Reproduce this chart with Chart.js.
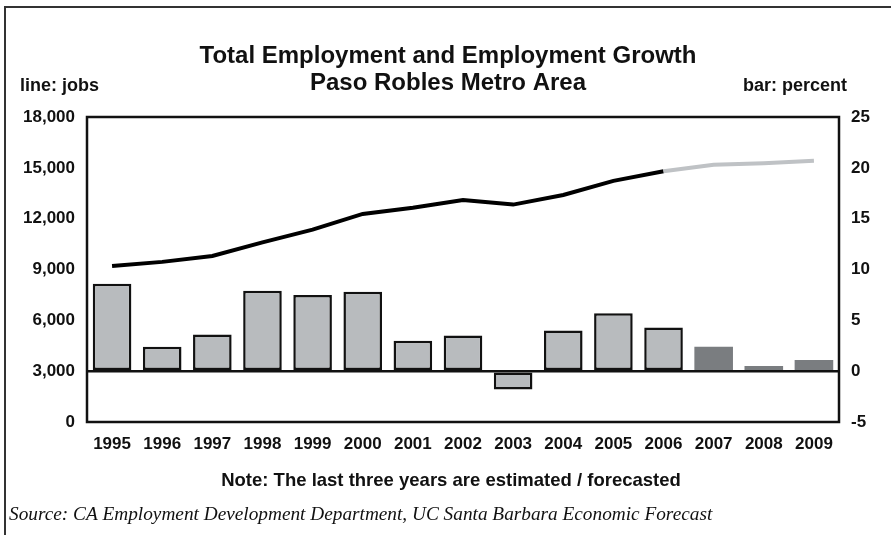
<!DOCTYPE html>
<html>
<head>
<meta charset="utf-8">
<script src="https://cdn.jsdelivr.net/npm/chart.js@4.4.1/dist/chart.umd.min.js"></script>
<style>
  html, body { margin: 0; padding: 0; background: #fff; }
  #wrap { width: 891px; height: 535px; position: relative; }
</style>
</head>
<body>
<div id="wrap"><canvas id="chart" width="891" height="535"></canvas></div>
<script>
// years shown on the x axis
const years = ['1995','1996','1997','1998','1999','2000','2001','2002','2003','2004','2005','2006','2007','2008','2009'];
// line: total jobs
const jobs = [9200, 9450, 9800, 10600, 11350, 12280, 12650, 13100, 12830, 13400, 14230, 14800, 15180, 15270, 15420];
// bar: employment growth, percent
const growth = [8.6, 2.4, 3.6, 7.9, 7.5, 7.8, 3.0, 3.5, -1.8, 4.0, 5.7, 4.3, 2.4, 0.5, 1.1];
// first index that is estimated / forecasted
const forecastFrom = 12;

const jobTicks = [0, 3000, 6000, 9000, 12000, 15000, 18000];
const pctTicks = [-5, 0, 5, 10, 15, 20, 25];

const barFill = growth.map((v, i) => i < forecastFrom ? '#b8bbbe' : '#7a7d80');
const barBorder = growth.map((v, i) => i < forecastFrom ? 2.5 : 0);

const sans = '"Liberation Sans", Arial, sans-serif';
const tickFont = { family: sans, size: 17, weight: 'bold' };

// titles, side labels, note, source and frames
const extras = {
  id: 'extras',
  afterDraw(chart) {
    const ctx = chart.ctx;
    const a = chart.chartArea;
    ctx.save();
    ctx.fillStyle = '#111';
    ctx.textBaseline = 'middle';
    ctx.textAlign = 'center';
    ctx.font = 'bold 24px ' + sans;
    ctx.fillText('Total Employment and Employment Growth', 448, 56);
    ctx.fillText('Paso Robles Metro Area', 448, 83);
    ctx.font = 'bold 18px ' + sans;
    ctx.textAlign = 'left';
    ctx.fillText('line: jobs', 20, 86);
    ctx.textAlign = 'right';
    ctx.fillText('bar: percent', 847, 86);
    ctx.font = 'bold 18.5px ' + sans;
    ctx.textAlign = 'center';
    ctx.fillText('Note: The last three years are estimated / forecasted', 451, 481);
    ctx.textAlign = 'left';
    ctx.font = 'italic 19.3px "Liberation Serif", "Times New Roman", serif';
    ctx.fillText('Source: CA Employment Development Department, UC Santa Barbara Economic Forecast', 9, 515);

    // plot box
    ctx.strokeStyle = '#111';
    ctx.lineWidth = 2.5;
    ctx.strokeRect(a.left, a.top, a.right - a.left, a.bottom - a.top);

    // outer frame (top and left)
    ctx.strokeStyle = '#333';
    ctx.lineWidth = 2;
    ctx.beginPath();
    ctx.moveTo(5, 535);
    ctx.lineTo(5, 7);
    ctx.lineTo(891, 7);
    ctx.stroke();
    ctx.restore();
  }
};

new Chart(document.getElementById('chart'), {
  data: {
    labels: years,
    datasets: [
      {
        type: 'line',
        label: 'jobs',
        data: jobs,
        yAxisID: 'y',
        borderColor: '#000',
        borderWidth: 4,
        pointRadius: 0,
        tension: 0,
        order: 0,
        segment: {
          borderColor: c => c.p0DataIndex >= forecastFrom - 1 ? '#bfc2c5' : '#000'
        }
      },
      {
        type: 'bar',
        label: 'percent',
        data: growth,
        yAxisID: 'y1',
        backgroundColor: barFill,
        borderColor: '#111',
        borderWidth: barBorder,
        borderSkipped: false,
        barPercentage: 0.77,
        categoryPercentage: 1,
        order: 1
      }
    ]
  },
  options: {
    responsive: false,
    animation: false,
    layout: { padding: { top: 117, left: 0, right: 0, bottom: 0 } },
    plugins: {
      legend: { display: false },
      tooltip: { enabled: false }
    },
    scales: {
      x: {
        offset: true,
        grid: { display: false, drawTicks: false },
        border: { display: false },
        ticks: { color: '#111', font: tickFont, padding: 12, maxRotation: 0, autoSkip: false },
        afterFit: s => { s.height = 113; }
      },
      y: {
        position: 'left',
        min: 0,
        max: 18000,
        grid: { display: false, drawTicks: false },
        border: { display: false },
        afterBuildTicks: s => { s.ticks = jobTicks.map(v => ({ value: v })); },
        ticks: {
          color: '#111',
          font: tickFont,
          padding: 12,
          callback: v => v.toLocaleString('en-US')
        },
        afterFit: s => { s.width = 87; }
      },
      y1: {
        position: 'right',
        min: -5,
        max: 25,
        border: { display: false },
        grid: {
          drawTicks: false,
          lineWidth: 2.5,
          color: c => c.tick && c.tick.value === 0 ? '#111' : 'rgba(0,0,0,0)'
        },
        afterBuildTicks: s => { s.ticks = pctTicks.map(v => ({ value: v })); },
        ticks: {
          color: '#111',
          font: tickFont,
          padding: 12
        },
        afterFit: s => { s.width = 52; }
      }
    }
  },
  plugins: [extras]
});
</script>
</body>
</html>
